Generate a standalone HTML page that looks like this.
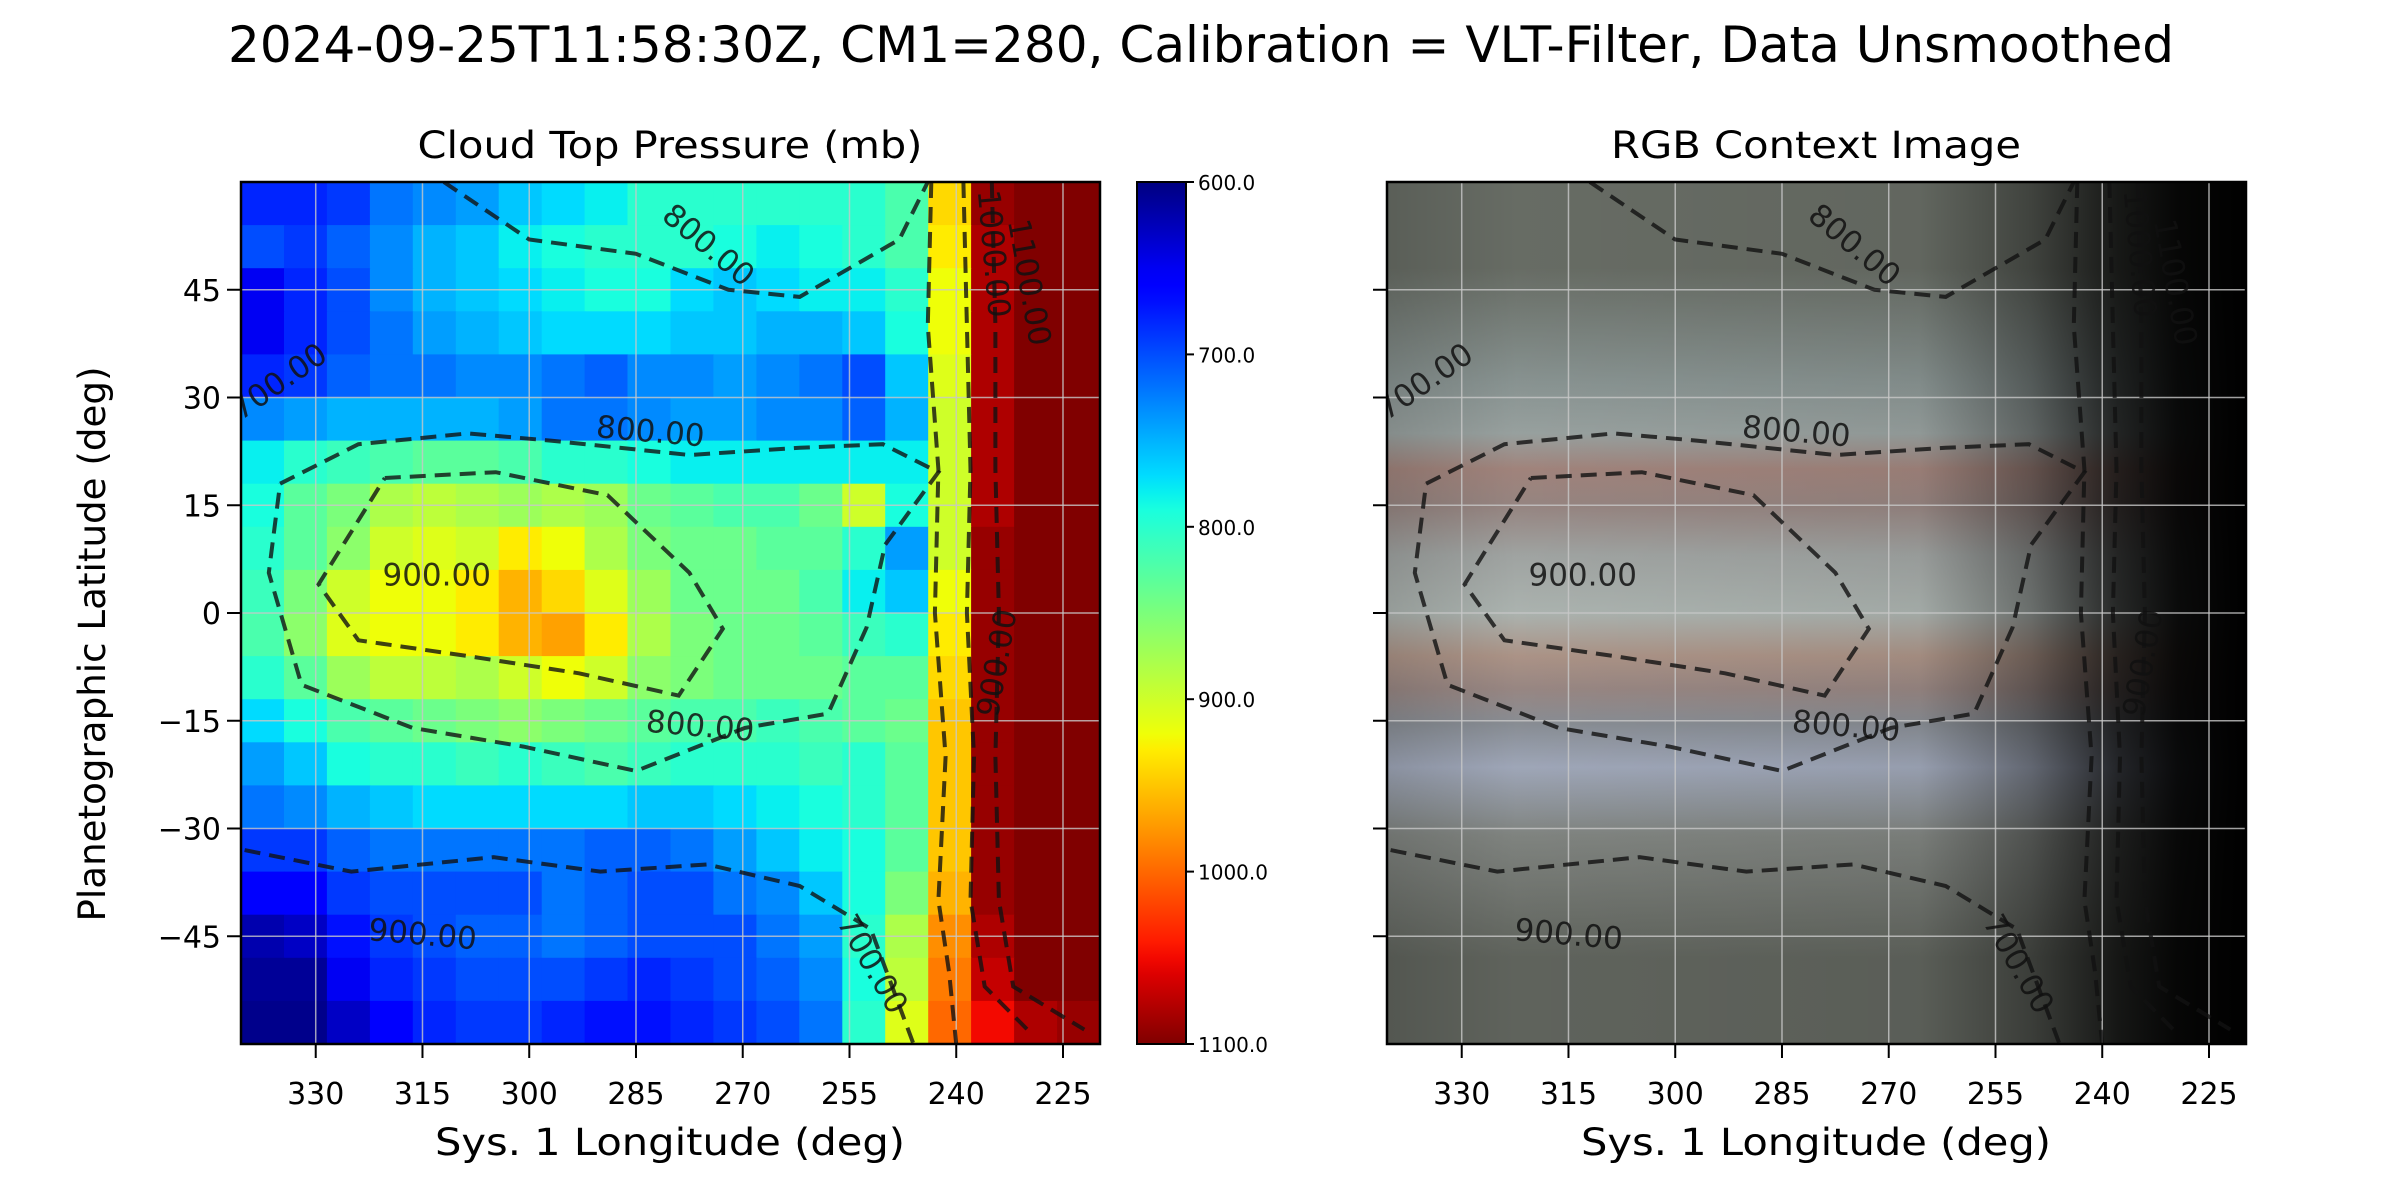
<!DOCTYPE html>
<html><head><meta charset="utf-8">
<style>
html,body{margin:0;padding:0;background:#fff;}
svg{display:block;font-family:"DejaVu Sans","Liberation Sans",sans-serif;}
</style></head>
<body>
<svg id="fig" width="2400" height="1200" viewBox="0 0 2400 1200">
<defs>
<linearGradient id="cbgrad" x1="0" y1="0" x2="0" y2="1"></linearGradient>
<linearGradient id="bandgrad" x1="0" y1="0" x2="0" y2="1"></linearGradient>
<linearGradient id="limbgrad" x1="0" y1="0" x2="1" y2="0">
<stop offset="0" stop-color="#000" stop-opacity="0.15"/>
<stop offset="0.15" stop-color="#000" stop-opacity="0.03"/>
<stop offset="0.62" stop-color="#000" stop-opacity="0.08"/>
<stop offset="0.75" stop-color="#000" stop-opacity="0.4"/>
<stop offset="0.85" stop-color="#000" stop-opacity="0.78"/>
<stop offset="0.92" stop-color="#000" stop-opacity="0.94"/>
<stop offset="1" stop-color="#000" stop-opacity="1"/>
</linearGradient>
<clipPath id="clipL"><rect x="241" y="182" width="859" height="862"/></clipPath>
<clipPath id="clipR"><rect x="1387" y="182" width="859" height="862"/></clipPath>
</defs>
<text x="1201" y="62" font-size="50" text-anchor="middle" textLength="1946" lengthAdjust="spacingAndGlyphs">2024-09-25T11:58:30Z, CM1=280, Calibration = VLT-Filter, Data Unsmoothed</text>
<text x="670" y="158" font-size="37" text-anchor="middle" textLength="505" lengthAdjust="spacingAndGlyphs">Cloud Top Pressure (mb)</text>
<text x="1816" y="158" font-size="37" text-anchor="middle" textLength="410" lengthAdjust="spacingAndGlyphs">RGB Context Image</text>
<text x="670" y="1155" font-size="37" text-anchor="middle" textLength="470" lengthAdjust="spacingAndGlyphs">Sys. 1 Longitude (deg)</text>
<text x="1816" y="1155" font-size="37" text-anchor="middle" textLength="470" lengthAdjust="spacingAndGlyphs">Sys. 1 Longitude (deg)</text>
<text x="0" y="0" font-size="37" text-anchor="middle" transform="translate(105,644) rotate(-90)" textLength="555" lengthAdjust="spacingAndGlyphs">Planetographic Latitude (deg)</text>
<g id="heat" clip-path="url(#clipL)"></g>
<g id="rgb" clip-path="url(#clipR)"></g>
<g id="grid"></g>
<g id="contours"></g>
<g id="axes"></g>
<g id="cbar"></g>
</svg>
<script>
const NS='http://www.w3.org/2000/svg';
const lonTicks=[330,315,300,285,270,255,240,225];
const latTicks=[45,30,15,0,-15,-30,-45];
const cbTicks=[600,700,800,900,1000,1100];
const cbTickLabels=['600.0','700.0','800.0','900.0','1000.0','1100.0'];
const rowLats=[57,51,45,39,33,27,21,15,9,3,-3,-9,-15,-21,-27,-33,-39,-45,-51,-57];
const r0=[680,680,690,720,730,740,760,770,780,800,800,800,800,800,800,820,940,1090,1100,1100];
const r1=[700,690,710,730,750,760,780,790,800,800,800,790,780,790,800,820,930,1080,1100,1100];
const r2=[650,680,700,730,750,760,770,780,790,790,770,760,770,780,780,800,920,1080,1100,1100];
const r3=[650,680,700,720,740,750,760,770,770,770,760,760,750,750,760,790,920,1080,1100,1100];
const r4=[680,690,710,720,720,730,730,720,710,730,730,740,730,720,700,760,910,1080,1100,1100];
const r5=[730,740,750,750,750,750,740,720,720,730,740,740,730,730,710,750,900,1080,1100,1100];
const r6=[780,800,810,820,830,830,820,800,800,790,780,780,780,780,780,780,900,1080,1100,1100];
const r7=[790,830,850,880,890,880,870,880,870,840,830,820,820,840,900,790,900,1080,1100,1100];
const r8=[800,830,860,900,910,900,930,920,880,850,840,840,830,830,800,740,900,1090,1100,1100];
const r9=[810,850,900,920,920,930,960,940,910,870,840,840,840,820,780,760,920,1090,1100,1100];
const r10=[820,860,910,920,920,930,960,970,930,880,850,840,840,830,810,800,930,1090,1100,1100];
const r11=[800,830,870,890,890,880,900,920,900,860,850,840,840,840,830,830,940,1090,1100,1100];
const r12=[770,790,820,830,840,850,860,850,840,830,820,820,810,820,830,840,950,1090,1100,1100];
const r13=[740,760,790,800,800,810,800,810,820,810,800,800,800,810,800,830,950,1090,1100,1100];
const r14=[720,730,750,760,770,770,770,770,770,760,760,770,780,790,800,830,950,1090,1100,1100];
const r15=[690,690,710,720,720,720,720,720,710,710,720,740,760,780,790,830,950,1090,1100,1100];
const r16=[660,660,690,700,700,700,700,720,710,700,700,720,730,760,790,850,960,1090,1100,1100];
const r17=[620,630,670,690,700,710,710,720,710,700,700,700,720,740,800,880,980,1080,1100,1100];
const r18=[610,610,650,680,690,700,700,700,690,680,690,700,710,730,790,890,990,1070,1100,1100];
const r19=[605,605,630,660,680,690,690,680,670,670,680,690,700,720,800,910,1000,1050,1080,1090];
const pressureRows=[r0,r1,r2,r3,r4,r5,r6,r7,r8,r9,r10,r11,r12,r13,r14,r15,r16,r17,r18,r19];
const bandLats=[48,32,25,20,15,8,0,-6,-10.5,-15.5,-21.5,-31,-48];
const bandColors=['#6a6f67','#8c9795','#9ca5a3','#a5877f','#9a8884','#a4a8a6','#b0b8b4','#b0978a','#9c8a86','#8c9198','#a3abbd','#838783','#62665f'];
const c800Lon=[335,324,308.6,297,277.5,262,250.3,242.5,250,252.6,258,269.7,285,300.8,316.4,332,336.6,335];
const c800Lat=[18,23.5,25,24,22,23,23.5,19.6,9.5,-2,-14,-16,-22,-18.6,-16,-10,5.6,18];
const c900Lon=[320.3,304.7,289,277.5,272.8,279,293,308.6,324,329.6,320.3];
const c900Lat=[18.8,19.6,16.4,5.6,-2.2,-11.5,-8.4,-6,-3.8,4,18.8];
const cTopLon=[312,300,285,272,262,255,248,244];
const cTopLat=[60,52,50,45,44,48,52,60];
const cLowLon=[340,325,305,290,275,262,252,246];
const cLowLat=[-33,-36,-34,-36,-35,-38,-44,-60];
const cL900Lon=[243.5,244,242.5,243,241.5,242.5,241,240];
const cL900Lat=[60,40,20,0,-20,-40,-50,-60];
const cL1000Lon=[239,238.5,238,238.5,237.5,238,236,230];
const cL1000Lat=[60,40,20,0,-20,-40,-52,-58];
const cL1100Lon=[235,234.5,234.5,234,234.5,234,232,222];
const cL1100Lat=[60,40,20,0,-20,-40,-52,-58];
const labText=['800.00','900.00','800.00','800.00','700.00','900.00','700.00','900.00','1000.00','1100.00'];
const labLon=[283,313,276,275,335,315,252,234,235,230];
const labLat=[25,5,-16,51,32,-45,-49,-7,50,46];
const labRot=[5,0,5,40,-35,5,60,-80,85,80];

const lonL=340.5, lonR=219.8, PX=241, PW=859, PY=182, PH=862, ROFF=1146;
function xL(lon){return PX+(lonL-lon)/(lonL-lonR)*PW;}
function yL(lat){return PY+(60-lat)/120*PH;}
function interp(pts,t){for(let i=1;i<pts.length;i++){if(t<=pts[i][0]){const a=pts[i-1],b=pts[i];return a[1]+(b[1]-a[1])*(t-a[0])/(b[0]-a[0]);}}return pts[pts.length-1][1];}
function jet(v){const t=Math.max(0,Math.min(1,(v-600)/500));
const r=interp([[0,0],[0.35,0],[0.66,1],[0.89,1],[1,0.5]],t);
const g=interp([[0,0],[0.125,0],[0.375,1],[0.64,1],[0.91,0],[1,0]],t);
const b=interp([[0,0.5],[0.11,1],[0.34,1],[0.65,0],[1,0]],t);
return 'rgb('+Math.round(r*255)+','+Math.round(g*255)+','+Math.round(b*255)+')';}
function mk(tag,attrs,parent){const e=document.createElementNS(NS,tag);for(const k in attrs)e.setAttribute(k,attrs[k]);parent.appendChild(e);return e;}

const heat=document.getElementById('heat');
const nCols=r0.length, dLon=(lonL-lonR)/nCols, dLat=120/pressureRows.length;
pressureRows.forEach((row,ri)=>{row.forEach((v,ci)=>{
const lonA=lonL-ci*dLon, latA=rowLats[ri]+dLat/2;
const x0=xL(lonA), x1=xL(lonA-dLon), y0=yL(latA), y1=yL(latA-dLat);
const c=mk('rect',{x:x0.toFixed(1),y:y0.toFixed(1),width:(x1-x0+0.6).toFixed(1),height:(y1-y0+0.6).toFixed(1),fill:jet(v)},heat);


});});

const bg=document.getElementById('bandgrad');
bandLats.forEach((lat,i)=>{mk('stop',{offset:((60-lat)/120).toFixed(3),'stop-color':bandColors[i]},bg);});
const rgb=document.getElementById('rgb');
const rb=mk('rect',{x:PX+ROFF,y:PY,width:PW,height:PH,fill:'url(#bandgrad)'},rgb);


const rl=mk('rect',{x:PX+ROFF,y:PY,width:PW,height:PH,fill:'url(#limbgrad)'},rgb);



const grid=document.getElementById('grid');
[0,ROFF].forEach(off=>{
lonTicks.forEach(l=>{const x=xL(l)+off;mk('line',{x1:x,x2:x,y1:PY,y2:PY+PH,stroke:'#c8c8c8','stroke-width':1.5,'stroke-opacity':0.8},grid);});
latTicks.forEach(l=>{const y=yL(l);mk('line',{x1:PX+off,x2:PX+PW+off,y1:y,y2:y,stroke:'#c8c8c8','stroke-width':1.5,'stroke-opacity':0.8},grid);});
});

const cg=document.getElementById('contours');
const cset=[[c800Lon,c800Lat],[c900Lon,c900Lat],[cTopLon,cTopLat],[cLowLon,cLowLat],[cL900Lon,cL900Lat],[cL1000Lon,cL1000Lat],[cL1100Lon,cL1100Lat]];
[0,ROFF].forEach(off=>{
const g=mk('g',{'clip-path':off?'url(#clipR)':'url(#clipL)'},cg);
cset.forEach(([lo,la])=>{
const d=lo.map((l,i)=>(i?'L':'M')+(xL(l)+off).toFixed(1)+','+yL(la[i]).toFixed(1)).join(' ');
const p=mk('path',{d:d,fill:'none',stroke:'#111','stroke-opacity':0.8,'stroke-width':4,'stroke-dasharray':'16 9'},g);


});
labText.forEach((t,i)=>{
const x=xL(labLon[i])+off, y=yL(labLat[i]);
const tx=mk('text',{x:0,y:0,'font-size':31,'text-anchor':'middle','dominant-baseline':'middle',fill:'#111','fill-opacity':0.85,transform:'translate('+x.toFixed(1)+','+y.toFixed(1)+') rotate('+labRot[i]+')'},g);
tx.textContent=t;


});
});

const ax=document.getElementById('axes');
[0,ROFF].forEach(off=>{
const fr=mk('rect',{x:PX+off,y:PY,width:PW,height:PH,fill:'none',stroke:'#000','stroke-width':2.5},ax);


lonTicks.forEach(l=>{const x=xL(l)+off;
mk('line',{x1:x,x2:x,y1:PY+PH,y2:PY+PH+14,stroke:'#000','stroke-width':2},ax);
const t=mk('text',{x:x,y:PY+PH+60,'font-size':30,'text-anchor':'middle'},ax);t.textContent=l;


});
latTicks.forEach(l=>{const y=yL(l);
mk('line',{x1:PX+off-14,x2:PX+off,y1:y,y2:y,stroke:'#000','stroke-width':2},ax);
if(!off){const t=mk('text',{x:PX-20,y:y+11,'font-size':30,'text-anchor':'end'},ax);t.textContent=(l<0?'\u2212'+(-l):l);

}
});
});

const CX=1137,CW=49;
const cbg=document.getElementById('cbgrad');
for(let i=0;i<=50;i++){const v=600+i*10;mk('stop',{offset:(i/50).toFixed(3),'stop-color':jet(v)},cbg);}
const cb=document.getElementById('cbar');
function yC(v){return PY+(v-600)/500*PH;}
const cr=mk('rect',{x:CX,y:PY,width:CW,height:PH,fill:'url(#cbgrad)',stroke:'#000','stroke-width':2},cb);


cbTicks.forEach((v,i)=>{const y=yC(v);
mk('line',{x1:CX+CW,x2:CX+CW+8,y1:y,y2:y,stroke:'#000','stroke-width':2},cb);
const t=mk('text',{x:CX+CW+12,y:y+8,'font-size':20},cb);t.textContent=cbTickLabels[i];


});
</script>
</body></html>
